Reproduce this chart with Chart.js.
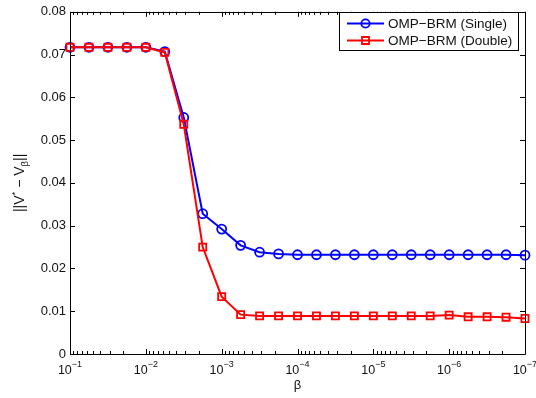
<!DOCTYPE html>
<html>
<head>
<meta charset="utf-8">
<script src="https://cdn.jsdelivr.net/npm/chart.js@4/dist/chart.umd.min.js"></script>
<style>
html,body{margin:0;padding:0;background:#fff;}
#wrap{width:536px;height:398px;}
</style>
</head>
<body>
<div id="wrap"><canvas id="c" width="536" height="398"></canvas></div>
<script>
// ---- data ----
const betaValues = [1e-1, 5.623e-2, 3.162e-2, 1.778e-2, 1e-2, 5.623e-3, 3.162e-3, 1.778e-3,
  1e-3, 5.623e-4, 3.162e-4, 1.778e-4, 1e-4, 5.623e-5, 3.162e-5, 1.778e-5,
  1e-5, 5.623e-6, 3.162e-6, 1.778e-6, 1e-6, 5.623e-7, 3.162e-7, 1.778e-7, 1e-7];
const singleValues = [0.0717, 0.0717, 0.0717, 0.0717, 0.0717, 0.0707, 0.0553, 0.0328,
  0.0292, 0.0254, 0.0238, 0.0234, 0.0232, 0.0232, 0.0232, 0.0232,
  0.0232, 0.0232, 0.0232, 0.0232, 0.0232, 0.0232, 0.0232, 0.0232, 0.0231];
const doubleValues = [0.0717, 0.0717, 0.0717, 0.0717, 0.0717, 0.0705, 0.0537, 0.0250,
  0.0134, 0.0092, 0.0089, 0.0089, 0.0089, 0.0089, 0.0089, 0.0089,
  0.0089, 0.0089, 0.0089, 0.0089, 0.0091, 0.0087, 0.0087, 0.0086, 0.0083];
const seriesNames = ['OMP\u2212BRM (Single)', 'OMP\u2212BRM (Double)'];
const xDecadeExponents = [-1, -2, -3, -4, -5, -6, -7];
const yTickValues = [0, 0.01, 0.02, 0.03, 0.04, 0.05, 0.06, 0.07, 0.08];

const FONT = '"Liberation Sans", Arial, Helvetica, sans-serif';
const TXT = '#111';

const toPoints = (vals) => vals.map((v, i) => ({x: betaValues[i], y: v}));

const decorPlugin = {
  id: 'decor',
  afterDraw(chart) {
    const ctx = chart.ctx;
    const a = chart.chartArea;
    const xs = chart.scales.x, ys = chart.scales.y;
    ctx.save();
    // frame
    ctx.strokeStyle = '#000';
    ctx.lineWidth = 1;
    ctx.beginPath();
    ctx.rect(Math.round(a.left) + 0.5, Math.round(a.top) + 0.5, Math.round(a.right - a.left), Math.round(a.bottom - a.top));
    ctx.stroke();
    // y ticks (inward, both sides)
    ctx.beginPath();
    yTickValues.forEach(v => {
      const y = Math.round(ys.getPixelForValue(v)) + 0.5;
      ctx.moveTo(a.left, y); ctx.lineTo(a.left + 5, y);
      ctx.moveTo(a.right, y); ctx.lineTo(a.right - 5, y);
    });
    // x major & minor ticks
    xDecadeExponents.forEach(e => {
      const x = Math.round(xs.getPixelForValue(Math.pow(10, e))) + 0.5;
      ctx.moveTo(x, a.bottom); ctx.lineTo(x, a.bottom - 5);
      ctx.moveTo(x, a.top); ctx.lineTo(x, a.top + 5);
      if (e > -7) {
        for (let m = 2; m <= 9; m++) {
          const xm = Math.round(xs.getPixelForValue(m * Math.pow(10, e - 1))) + 0.5;
          ctx.moveTo(xm, a.bottom); ctx.lineTo(xm, a.bottom - 3);
          ctx.moveTo(xm, a.top); ctx.lineTo(xm, a.top + 3);
        }
      }
    });
    ctx.stroke();

    // x tick labels 10^e
    ctx.fillStyle = TXT;
    ctx.textBaseline = 'alphabetic';
    ctx.textAlign = 'left';
    xDecadeExponents.forEach(e => {
      const x = xs.getPixelForValue(Math.pow(10, e));
      ctx.font = '12.5px ' + FONT;
      const w1 = ctx.measureText('10').width;
      const sup = '\u2212' + Math.abs(e);
      ctx.font = '9px ' + FONT;
      const w2 = ctx.measureText(sup).width;
      const x0 = x - (w1 + w2) / 2;
      ctx.font = '12.5px ' + FONT;
      ctx.fillText('10', x0, a.bottom + 20);
      ctx.font = '9px ' + FONT;
      ctx.fillText(sup, x0 + w1, a.bottom + 12.5);
    });

    // x title
    ctx.font = '13px ' + FONT;
    ctx.textAlign = 'center';
    ctx.fillText('\u03b2', (a.left + a.right) / 2, a.bottom + 35);

    // y title (rotated)
    ctx.save();
    ctx.translate(24, (a.top + a.bottom) / 2);
    ctx.rotate(-Math.PI / 2);
    const parts = [
      {t: '||V', f: 14, dy: 0},
      {t: '*', f: 9.5, dy: -6},
      {t: ' \u2212 V', f: 14, dy: 0},
      {t: '\u03b2', f: 9.5, dy: 4},
      {t: '||', f: 14, dy: 0}
    ];
    let total = 0;
    parts.forEach(p => { ctx.font = p.f + 'px ' + FONT; p.w = ctx.measureText(p.t).width; total += p.w; });
    let px = -total / 2;
    ctx.textAlign = 'left';
    parts.forEach(p => { ctx.font = p.f + 'px ' + FONT; ctx.fillText(p.t, px, p.dy); px += p.w; });
    ctx.restore();

    // legend
    const lx = 339.5, ly = 12.5, lw = 179, lh = 38;
    ctx.fillStyle = '#fff';
    ctx.fillRect(lx, ly, lw, lh);
    ctx.strokeStyle = '#000';
    ctx.lineWidth = 1;
    ctx.strokeRect(lx, ly, lw, lh);
    const rows = [
      {name: seriesNames[0], color: '#0000ff', style: 'circle', y: 23.5},
      {name: seriesNames[1], color: '#ff0000', style: 'rect', y: 40.5}
    ];
    rows.forEach(r => {
      ctx.strokeStyle = r.color;
      ctx.lineWidth = 2;
      ctx.beginPath();
      ctx.moveTo(347, r.y); ctx.lineTo(384, r.y);
      ctx.stroke();
      ctx.lineWidth = 1.8;
      ctx.beginPath();
      if (r.style === 'circle') ctx.arc(365.5, r.y, 4.2, 0, Math.PI * 2);
      else ctx.rect(365.5 - 3.5, r.y - 3.5, 7, 7);
      ctx.stroke();
      ctx.fillStyle = TXT;
      ctx.font = '13.5px ' + FONT;
      ctx.textAlign = 'left';
      ctx.textBaseline = 'middle';
      ctx.fillText(r.name, 388, r.y + 0.5);
    });
    ctx.restore();
  }
};

new Chart(document.getElementById('c'), {
  type: 'line',
  data: {
    datasets: [
      {
        label: seriesNames[0],
        data: toPoints(singleValues),
        borderColor: '#0000ff',
        borderWidth: 2,
        pointStyle: 'circle',
        pointRadius: 4.5,
        pointBorderWidth: 1.8,
        pointBorderColor: '#0000ff',
        pointBackgroundColor: 'rgba(0,0,0,0)',
        tension: 0,
        clip: false,
        order: 1
      },
      {
        label: seriesNames[1],
        data: toPoints(doubleValues),
        borderColor: '#ff0000',
        borderWidth: 2,
        pointStyle: 'rect',
        pointRadius: 5,
        pointBorderWidth: 1.8,
        pointBorderColor: '#ff0000',
        pointBackgroundColor: 'rgba(0,0,0,0)',
        tension: 0,
        clip: false,
        order: 0
      }
    ]
  },
  options: {
    responsive: false,
    devicePixelRatio: 1,
    animation: false,
    layout: {padding: {top: 7, right: 11, left: 0, bottom: 0}},
    plugins: {legend: {display: false}, tooltip: {enabled: false}, title: {display: false}},
    scales: {
      x: {
        type: 'logarithmic',
        reverse: true,
        min: 1e-7,
        max: 1e-1,
        grid: {display: false, drawTicks: false},
        border: {display: false},
        ticks: {display: false},
        afterFit: (s) => { s.height = 44; }
      },
      y: {
        type: 'linear',
        min: 0,
        max: 0.08,
        grid: {display: false, drawTicks: false},
        border: {display: false},
        ticks: {
          stepSize: 0.01,
          padding: 4,
          color: TXT,
          font: {family: FONT, size: 13},
          callback: (v) => (Math.abs(v) < 1e-9 ? '0' : Number(v).toFixed(2))
        },
        afterFit: (s) => { s.width = 70; }
      }
    }
  },
  plugins: [decorPlugin]
});
</script>
</body>
</html>
